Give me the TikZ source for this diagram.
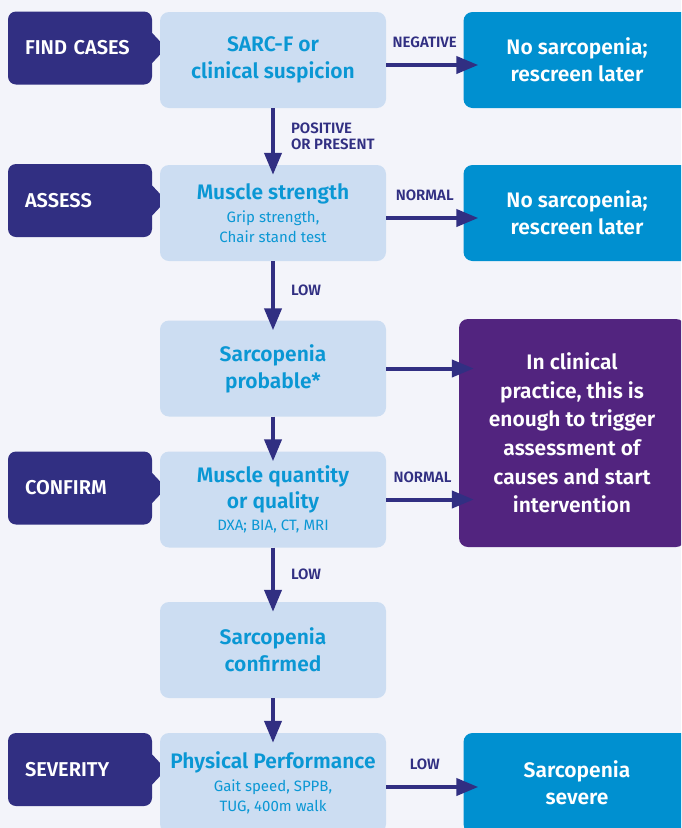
\documentclass[tikz,border=0pt]{standalone}
\usepackage{fontspec}
\setmainfont{Fira Sans}[BoldFont={Fira Sans SemiBold}]
\usetikzlibrary{arrows.meta}

\definecolor{bgcol}{HTML}{F3F4FA}
\definecolor{navy}{HTML}{312F82}
\definecolor{paleblue}{HTML}{CCDDF2}
\definecolor{cyantext}{HTML}{0A97D4}
\definecolor{skyblue}{HTML}{0090D0}
\definecolor{purplebox}{HTML}{52247F}

\newcommand{\subline}[1]{{\fontsize{15}{18}\selectfont\mdseries #1}}

\begin{document}
\begin{tikzpicture}[x=1pt,y=-1pt,
  stage/.style={fill=navy, rounded corners=8pt, minimum width=144pt,
    minimum height=73pt, text width=110pt, inner xsep=17pt, align=left,
    text=white, font=\fontsize{20}{24}\selectfont\bfseries},
  check/.style={fill=paleblue, rounded corners=9pt, minimum width=226pt,
    minimum height=96pt, align=center, text=cyantext,
    font=\fontsize{21}{27}\selectfont\bfseries},
  outcome/.style={fill=skyblue, rounded corners=9pt, minimum width=227pt,
    minimum height=96pt, align=center, text=white,
    font=\fontsize{21}{27}\selectfont\bfseries},
  flow/.style={navy, line width=4pt, -{Triangle[length=22pt,width=17pt]},
    shorten >=-10pt},
  cond/.style={text=navy, inner sep=0pt, align=left,
    font=\fontsize{15}{16}\selectfont\bfseries}]

  \useasboundingbox (0,0) rectangle (681,828);
  \clip (0,0) rectangle (681,828);
  \fill[bgcol] (0,0) rectangle (681,828);

  \node[stage] (find) at (80,48) {FIND CASES};
  \node[stage] (assess) at (80,200.5) {ASSESS};
  \node[stage] (confirm) at (80,488) {CONFIRM};
  \node[stage] (severity) at (80,769.5) {SEVERITY};
  \foreach \s in {find,assess,confirm,severity}
    \fill[navy] ([yshift=15pt]\s.east) -- ([xshift=14pt]\s.east)
      -- ([yshift=-15pt]\s.east) -- cycle;

  \node[check] (sarcf) at (273,60) {SARC-F or\\clinical suspicion};
  \node[check] (strength) at (273,213)
    {Muscle strength\\[-4pt]\subline{Grip strength,}\\[-7pt]\subline{Chair stand test}};
  \node[check] (probable) at (273,368.5) {Sarcopenia\\probable*};
  \node[check] (quantity) at (273,499.5)
    {Muscle quantity\\[-1pt]or quality\\[-5pt]\subline{DXA; BIA, CT, MRI}};
  \node[check] (confirmed) at (273,650) {Sarcopenia\\confirmed};
  \node[check, minimum height=100pt] (performance) at (273,783)
    {Physical Performance\\[-4pt]\subline{Gait speed, SPPB,}\\[-7pt]\subline{TUG, 400m walk}};

  \node[outcome] (none1) at (577,60) {No sarcopenia;\\rescreen later};
  \node[outcome] (none2) at (577,213) {No sarcopenia;\\rescreen later};
  \node[outcome, fill=purplebox, minimum width=226pt, minimum height=228pt,
    font=\fontsize{21}{28.6}\selectfont\bfseries] (clinic) at (572,433)
    {In clinical\\practice, this is\\enough to trigger\\assessment of\\causes and start\\intervention};
  \node[outcome, minimum height=100pt] (severe) at (577,783) {Sarcopenia\\severe};

  \draw[flow] (sarcf) -- node[cond, right=16pt] {POSITIVE\\OR PRESENT} (strength);
  \draw[flow] (strength) -- node[cond, right=16pt] {LOW} (probable);
  \draw[flow] (probable) -- (quantity);
  \draw[flow] (quantity) -- node[cond, right=16pt] {LOW} (confirmed);
  \draw[flow] (confirmed) -- (performance);

  \draw[flow, shorten >=-15pt] ([yshift=-5pt]sarcf.east)
    -- node[cond, above=15pt] {NEGATIVE} ([yshift=-5pt]sarcf.east -| none1.west);
  \draw[flow, shorten >=-15pt] ([yshift=-5pt]strength.east)
    -- node[cond, above=15pt] {NORMAL} ([yshift=-5pt]strength.east -| none2.west);
  \draw[flow, shorten >=-15pt] (probable.east) -- (probable.east -| clinic.west);
  \draw[flow, shorten >=-15pt] (quantity.east)
    -- node[cond, above=15pt] {NORMAL} (quantity.east -| clinic.west);
  \draw[flow, shorten >=-15pt] ([yshift=-4pt]performance.east)
    -- node[cond, above=15pt] {LOW} ([yshift=-4pt]performance.east -| severe.west);
\end{tikzpicture}
\end{document}
